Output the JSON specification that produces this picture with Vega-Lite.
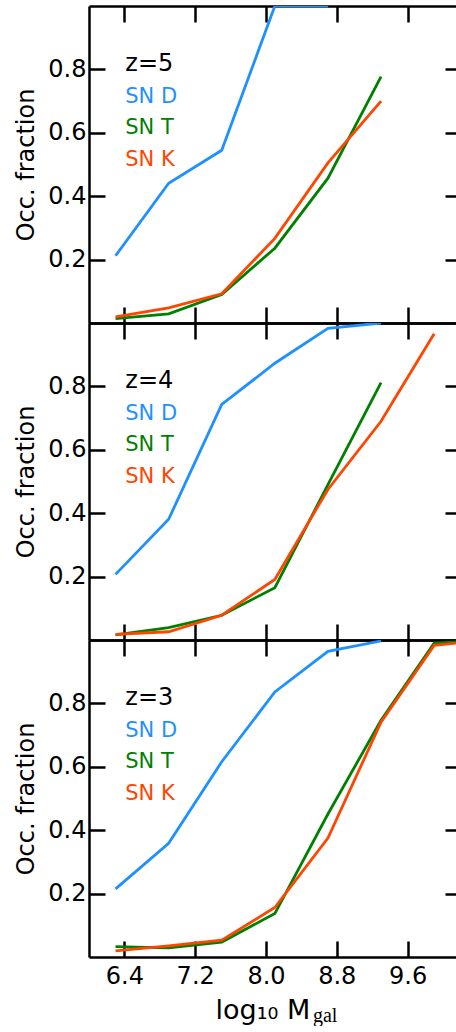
{
  "$schema": "https://vega.github.io/schema/vega-lite/v6.json",
  "padding": {"left": 14, "top": 4, "right": 0, "bottom": 0},
  "background": "white",
  "config": {
    "view": {"stroke": null},
    "axis": {
      "labelFont": "DejaVu Sans", "labelFontSize": 24, "labelColor": "black",
      "titleFont": "DejaVu Sans", "titleFontSize": 24, "titleFontWeight": "normal", "titleColor": "black",
      "domainColor": "black", "domainWidth": 2.5, "tickColor": "black", "tickWidth": 2.5,
      "grid": false, "minExtent": 0, "labelFlush": false, "labelOverlap": false, "labelBound": false
    }
  },
  "datasets": {
    "occ": [
      {"z": 5, "series": "SN D", "logM": 6.3, "frac": 0.212},
      {"z": 5, "series": "SN D", "logM": 6.9, "frac": 0.441},
      {"z": 5, "series": "SN D", "logM": 7.5, "frac": 0.545},
      {"z": 5, "series": "SN D", "logM": 8.1, "frac": 1.0},
      {"z": 5, "series": "SN D", "logM": 8.7, "frac": 1.0},
      {"z": 5, "series": "SN T", "logM": 6.3, "frac": 0.014},
      {"z": 5, "series": "SN T", "logM": 6.9, "frac": 0.029},
      {"z": 5, "series": "SN T", "logM": 7.5, "frac": 0.09},
      {"z": 5, "series": "SN T", "logM": 8.1, "frac": 0.236},
      {"z": 5, "series": "SN T", "logM": 8.7, "frac": 0.457},
      {"z": 5, "series": "SN T", "logM": 9.3, "frac": 0.777},
      {"z": 5, "series": "SN K", "logM": 6.3, "frac": 0.019},
      {"z": 5, "series": "SN K", "logM": 6.9, "frac": 0.048},
      {"z": 5, "series": "SN K", "logM": 7.5, "frac": 0.092},
      {"z": 5, "series": "SN K", "logM": 8.1, "frac": 0.267},
      {"z": 5, "series": "SN K", "logM": 8.7, "frac": 0.505},
      {"z": 5, "series": "SN K", "logM": 9.3, "frac": 0.70},
      {"z": 4, "series": "SN D", "logM": 6.3, "frac": 0.207},
      {"z": 4, "series": "SN D", "logM": 6.9, "frac": 0.381},
      {"z": 4, "series": "SN D", "logM": 7.5, "frac": 0.743},
      {"z": 4, "series": "SN D", "logM": 8.1, "frac": 0.873},
      {"z": 4, "series": "SN D", "logM": 8.7, "frac": 0.983},
      {"z": 4, "series": "SN D", "logM": 9.3, "frac": 1.0},
      {"z": 4, "series": "SN T", "logM": 6.3, "frac": 0.016},
      {"z": 4, "series": "SN T", "logM": 6.9, "frac": 0.039},
      {"z": 4, "series": "SN T", "logM": 7.5, "frac": 0.078},
      {"z": 4, "series": "SN T", "logM": 8.1, "frac": 0.165},
      {"z": 4, "series": "SN T", "logM": 8.7, "frac": 0.49},
      {"z": 4, "series": "SN T", "logM": 9.3, "frac": 0.812},
      {"z": 4, "series": "SN K", "logM": 6.3, "frac": 0.018},
      {"z": 4, "series": "SN K", "logM": 6.9, "frac": 0.026},
      {"z": 4, "series": "SN K", "logM": 7.5, "frac": 0.078},
      {"z": 4, "series": "SN K", "logM": 8.1, "frac": 0.191},
      {"z": 4, "series": "SN K", "logM": 8.7, "frac": 0.475},
      {"z": 4, "series": "SN K", "logM": 9.3, "frac": 0.69},
      {"z": 4, "series": "SN K", "logM": 9.9, "frac": 0.966},
      {"z": 3, "series": "SN D", "logM": 6.3, "frac": 0.215},
      {"z": 3, "series": "SN D", "logM": 6.9, "frac": 0.359},
      {"z": 3, "series": "SN D", "logM": 7.5, "frac": 0.616},
      {"z": 3, "series": "SN D", "logM": 8.1, "frac": 0.836},
      {"z": 3, "series": "SN D", "logM": 8.7, "frac": 0.964},
      {"z": 3, "series": "SN D", "logM": 9.3, "frac": 0.997},
      {"z": 3, "series": "SN T", "logM": 6.3, "frac": 0.033},
      {"z": 3, "series": "SN T", "logM": 6.9, "frac": 0.029},
      {"z": 3, "series": "SN T", "logM": 7.5, "frac": 0.047},
      {"z": 3, "series": "SN T", "logM": 8.1, "frac": 0.137},
      {"z": 3, "series": "SN T", "logM": 8.7, "frac": 0.451},
      {"z": 3, "series": "SN T", "logM": 9.3, "frac": 0.747},
      {"z": 3, "series": "SN T", "logM": 9.9, "frac": 0.99},
      {"z": 3, "series": "SN T", "logM": 10.5, "frac": 1.0},
      {"z": 3, "series": "SN K", "logM": 6.3, "frac": 0.019},
      {"z": 3, "series": "SN K", "logM": 6.9, "frac": 0.035},
      {"z": 3, "series": "SN K", "logM": 7.5, "frac": 0.053},
      {"z": 3, "series": "SN K", "logM": 8.1, "frac": 0.156},
      {"z": 3, "series": "SN K", "logM": 8.7, "frac": 0.375},
      {"z": 3, "series": "SN K", "logM": 9.3, "frac": 0.741},
      {"z": 3, "series": "SN K", "logM": 9.9, "frac": 0.983},
      {"z": 3, "series": "SN K", "logM": 10.5, "frac": 1.0}
    ],
    "leg": [
      {"z": 5, "series": "SN D", "ly": 0.695},
      {"z": 5, "series": "SN T", "ly": 0.595},
      {"z": 5, "series": "SN K", "ly": 0.495},
      {"z": 4, "series": "SN D", "ly": 0.695},
      {"z": 4, "series": "SN T", "ly": 0.595},
      {"z": 4, "series": "SN K", "ly": 0.495},
      {"z": 3, "series": "SN D", "ly": 0.695},
      {"z": 3, "series": "SN T", "ly": 0.595},
      {"z": 3, "series": "SN K", "ly": 0.495}
    ]
  },
  "spacing": 0,
  "bounds": "flush",
  "vconcat": [
    {
      "width": 367, "height": 317,
      "resolve": {"axis": {"x": "independent", "y": "independent"}},
      "layer": [
        {
          "data": {"name": "occ"},
          "transform": [{"filter": "datum.z == 5"}],
          "mark": {"type": "line", "strokeWidth": 2.8, "clip": true},
          "encoding": {
            "x": {"field": "logM", "type": "quantitative", "scale": {"domain": [6, 10.147], "nice": false, "zero": false},
                  "axis": {"orient": "bottom", "values": [6.4, 7.2, 8.0, 8.8, 9.6], "tickSize": -16, "labels": false, "title": null}},
            "y": {"field": "frac", "type": "quantitative", "scale": {"domain": [0, 1], "nice": false, "zero": false},
                  "axis": {"orient": "left", "values": [0.2, 0.4, 0.6, 0.8], "format": ".1f", "tickSize": -16, "labelPadding": 19,
                           "title": "Occ. fraction", "titleX": -56, "titleBaseline": "alphabetic"}},
            "color": {"field": "series", "type": "nominal", "scale": {"domain": ["SN D", "SN T", "SN K"], "range": ["#1E90FF", "#008000", "#FF4500"]}, "legend": null}
          }
        },
        {
          "data": {"name": "leg"},
          "transform": [{"filter": "datum.z == 5"}],
          "mark": {"type": "text", "align": "left", "baseline": "alphabetic", "font": "DejaVu Sans", "fontSize": 21},
          "encoding": {
            "x": {"datum": 6.41, "type": "quantitative",
                  "axis": {"orient": "top", "values": [6.4, 7.2, 8.0, 8.8, 9.6], "tickSize": -16, "labels": false, "title": null}},
            "y": {"field": "ly", "type": "quantitative",
                  "axis": {"orient": "right", "values": [0.2, 0.4, 0.6, 0.8], "tickSize": -11, "labels": false, "domain": false, "title": null}},
            "text": {"field": "series"},
            "color": {"field": "series", "type": "nominal", "scale": {"domain": ["SN D", "SN T", "SN K"], "range": ["#1E90FF", "#008000", "#FF4500"]}, "legend": null}
          }
        },
        {
          "data": {"values": [{"t": "z=5"}]},
          "mark": {"type": "text", "align": "left", "baseline": "alphabetic", "font": "DejaVu Sans", "fontSize": 24, "color": "black"},
          "encoding": {
            "x": {"datum": 6.41, "type": "quantitative", "axis": null},
            "y": {"datum": 0.795, "type": "quantitative", "axis": null},
            "text": {"field": "t"}
          }
        }
      ]
    },
    {
      "width": 367, "height": 317,
      "resolve": {"axis": {"x": "independent", "y": "independent"}},
      "layer": [
        {
          "data": {"name": "occ"},
          "transform": [{"filter": "datum.z == 4"}],
          "mark": {"type": "line", "strokeWidth": 2.8, "clip": true},
          "encoding": {
            "x": {"field": "logM", "type": "quantitative", "scale": {"domain": [6, 10.147], "nice": false, "zero": false},
                  "axis": {"orient": "bottom", "values": [6.4, 7.2, 8.0, 8.8, 9.6], "tickSize": -16, "labels": false, "title": null}},
            "y": {"field": "frac", "type": "quantitative", "scale": {"domain": [0, 1], "nice": false, "zero": false},
                  "axis": {"orient": "left", "values": [0.2, 0.4, 0.6, 0.8], "format": ".1f", "tickSize": -16, "labelPadding": 19,
                           "title": "Occ. fraction", "titleX": -56, "titleBaseline": "alphabetic"}},
            "color": {"field": "series", "type": "nominal", "scale": {"domain": ["SN D", "SN T", "SN K"], "range": ["#1E90FF", "#008000", "#FF4500"]}, "legend": null}
          }
        },
        {
          "data": {"name": "leg"},
          "transform": [{"filter": "datum.z == 4"}],
          "mark": {"type": "text", "align": "left", "baseline": "alphabetic", "font": "DejaVu Sans", "fontSize": 21},
          "encoding": {
            "x": {"datum": 6.41, "type": "quantitative",
                  "axis": {"orient": "top", "values": [6.4, 7.2, 8.0, 8.8, 9.6], "tickSize": -16, "labels": false, "title": null}},
            "y": {"field": "ly", "type": "quantitative",
                  "axis": {"orient": "right", "values": [0.2, 0.4, 0.6, 0.8], "tickSize": -11, "labels": false, "domain": false, "title": null}},
            "text": {"field": "series"},
            "color": {"field": "series", "type": "nominal", "scale": {"domain": ["SN D", "SN T", "SN K"], "range": ["#1E90FF", "#008000", "#FF4500"]}, "legend": null}
          }
        },
        {
          "data": {"values": [{"t": "z=4"}]},
          "mark": {"type": "text", "align": "left", "baseline": "alphabetic", "font": "DejaVu Sans", "fontSize": 24, "color": "black"},
          "encoding": {
            "x": {"datum": 6.41, "type": "quantitative", "axis": null},
            "y": {"datum": 0.795, "type": "quantitative", "axis": null},
            "text": {"field": "t"}
          }
        }
      ]
    },
    {
      "width": 367, "height": 317,
      "resolve": {"axis": {"x": "independent", "y": "independent"}},
      "layer": [
        {
          "data": {"name": "occ"},
          "transform": [{"filter": "datum.z == 3"}],
          "mark": {"type": "line", "strokeWidth": 2.8, "clip": true},
          "encoding": {
            "x": {"field": "logM", "type": "quantitative", "scale": {"domain": [6, 10.147], "nice": false, "zero": false},
                  "axis": {"orient": "bottom", "values": [6.4, 7.2, 8.0, 8.8, 9.6], "format": ".1f", "tickSize": -16, "labelPadding": 23,
                           "title": "log₁₀ M", "titleFontSize": 27, "titleX": 126, "titleAlign": "left", "titleY": 61, "titleBaseline": "alphabetic"}},
            "y": {"field": "frac", "type": "quantitative", "scale": {"domain": [0, 1], "nice": false, "zero": false},
                  "axis": {"orient": "left", "values": [0.2, 0.4, 0.6, 0.8], "format": ".1f", "tickSize": -16, "labelPadding": 19,
                           "title": "Occ. fraction", "titleX": -56, "titleBaseline": "alphabetic"}},
            "color": {"field": "series", "type": "nominal", "scale": {"domain": ["SN D", "SN T", "SN K"], "range": ["#1E90FF", "#008000", "#FF4500"]}, "legend": null}
          }
        },
        {
          "data": {"name": "leg"},
          "transform": [{"filter": "datum.z == 3"}],
          "mark": {"type": "text", "align": "left", "baseline": "alphabetic", "font": "DejaVu Sans", "fontSize": 21},
          "encoding": {
            "x": {"datum": 6.41, "type": "quantitative",
                  "axis": {"orient": "top", "values": [6.4, 7.2, 8.0, 8.8, 9.6], "tickSize": -16, "labels": false, "title": null}},
            "y": {"field": "ly", "type": "quantitative",
                  "axis": {"orient": "right", "values": [0.2, 0.4, 0.6, 0.8], "tickSize": -11, "labels": false, "domain": false, "title": null}},
            "text": {"field": "series"},
            "color": {"field": "series", "type": "nominal", "scale": {"domain": ["SN D", "SN T", "SN K"], "range": ["#1E90FF", "#008000", "#FF4500"]}, "legend": null}
          }
        },
        {
          "data": {"values": [{"t": "z=3"}]},
          "mark": {"type": "text", "align": "left", "baseline": "alphabetic", "font": "DejaVu Sans", "fontSize": 24, "color": "black"},
          "encoding": {
            "x": {"datum": 6.41, "type": "quantitative", "axis": null},
            "y": {"datum": 0.795, "type": "quantitative", "axis": null},
            "text": {"field": "t"}
          }
        },
        {
          "data": {"values": [{"t": "gal"}]},
          "mark": {"type": "text", "align": "left", "baseline": "alphabetic", "font": "Liberation Serif", "fontSize": 20, "color": "black"},
          "encoding": {
            "x": {"datum": 8.531, "type": "quantitative", "axis": null},
            "y": {"datum": -0.205, "type": "quantitative", "axis": null},
            "text": {"field": "t"}
          }
        }
      ]
    }
  ]
}
